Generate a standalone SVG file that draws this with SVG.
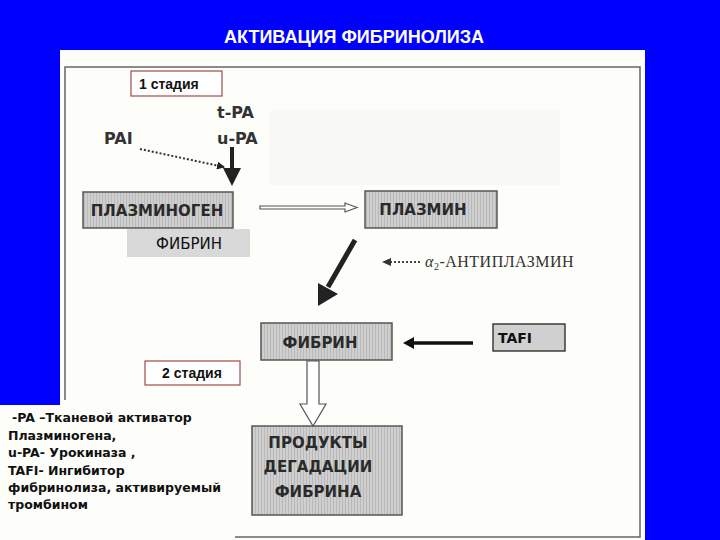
<svg xmlns="http://www.w3.org/2000/svg" width="720" height="540" viewBox="0 0 720 540">
<defs>
<pattern id="stripes" width="3" height="10" patternUnits="userSpaceOnUse">
<rect width="3" height="10" fill="#cfcfcf"/>
<rect width="1" height="10" fill="#b9b9b9"/>
</pattern>
<marker id="dotHead" markerWidth="8" markerHeight="8" refX="7" refY="4" orient="auto" markerUnits="userSpaceOnUse">
<path d="M0,0 L8,4 L0,8 Z" fill="#222"/>
</marker>
</defs>
<style>
.node { stroke: #555; stroke-width: 1.5; fill: url(#stripes); }
.nlabel { font-family: "DejaVu Sans", "Liberation Sans", sans-serif; font-weight: bold; font-size: 15px; fill: #2a2a2a; text-anchor: middle; }
.stage { fill: #fff; stroke: #a04a4a; stroke-width: 1.2; }
.stext { font-family: "Liberation Sans", Arial, sans-serif; font-weight: bold; font-size: 14px; fill: #111; }
.lbl { font-family: "DejaVu Sans", "Liberation Sans", sans-serif; font-weight: bold; font-size: 16px; fill: #333; }
.note { font-family: "DejaVu Sans", "Liberation Sans", sans-serif; font-weight: bold; font-size: 12.5px; fill: #111; }
</style>
<rect width="720" height="540" fill="#0000ff"/>
<text x="354" y="43" text-anchor="middle" font-family="Liberation Sans, Arial, sans-serif" font-weight="bold" font-size="18" fill="#fff">АКТИВАЦИЯ ФИБРИНОЛИЗА</text>
<rect x="60" y="50" width="585" height="490" fill="#fdfdfa"/>
<rect x="0" y="405" width="62" height="135" fill="#fdfdfa"/>
<rect x="270" y="110" width="290" height="75" fill="#f8f8f6"/>
<path d="M65,400 L65,67 L640,67 L640,537 L235,537" fill="none" stroke="#666" stroke-width="1.5"/>

<g id="stage1">
<rect class="stage" x="131" y="71" width="91" height="25"/>
<text class="stext" x="139" y="89">1 стадия</text>
</g>
<g id="tpa"><text class="lbl" x="217" y="118">t-PA</text></g>
<g id="upa"><text class="lbl" x="217" y="144">u-PA</text></g>
<g id="pai"><text class="lbl" x="104" y="144">PAI</text></g>

<g id="plasminogen">
<rect class="node" x="83" y="192" width="150" height="36"/>
<text class="nlabel" x="157" y="216">ПЛАЗМИНОГЕН</text>
</g>
<g id="fibrin1">
<rect x="127" y="229" width="123" height="28" fill="#d9d9d9"/>
<text x="189" y="249" text-anchor="middle" font-family="DejaVu Sans, Liberation Sans, sans-serif" font-size="15" fill="#111">ФИБРИН</text>
</g>
<g id="plasmin">
<rect class="node" x="365" y="191" width="132" height="37"/>
<text class="nlabel" x="423" y="215" font-size="16">ПЛАЗМИН</text>
</g>
<g id="antiplasmin">
<text x="425" y="267" font-family="Liberation Serif, Times New Roman, serif" font-size="16" letter-spacing="0.5" fill="#333"><tspan font-style="italic">α</tspan><tspan font-size="10" dy="3">2</tspan><tspan dy="-3">-АНТИПЛАЗМИН</tspan></text>
</g>
<g id="fibrin2">
<rect class="node" x="261" y="323" width="131" height="37"/>
<text class="nlabel" x="320" y="348" font-size="17">ФИБРИН</text>
</g>
<g id="tafi">
<rect x="493" y="324" width="72" height="27" fill="#d0d0d0" stroke="#222" stroke-width="1.3"/>
<text x="498" y="343" font-family="DejaVu Sans, Liberation Sans, sans-serif" font-weight="bold" font-size="14" fill="#111">TAFI</text>
</g>
<g id="stage2">
<rect class="stage" x="145" y="361" width="95" height="24"/>
<text class="stext" x="192" y="378" text-anchor="middle">2 стадия</text>
</g>
<g id="products">
<rect class="node" x="252" y="426" width="150" height="89"/>
<text class="nlabel" x="318" y="448">ПРОДУКТЫ</text>
<text class="nlabel" x="318" y="472">ДЕГАДАЦИИ</text>
<text class="nlabel" x="318" y="497">ФИБРИНА</text>
</g>
<g id="legend">
<text class="note" x="12" y="422"> -PA –Тканевой  активатор</text>
<text class="note" x="8" y="440">Плазминогена,</text>
<text class="note" x="8" y="457">u-PA- Урокиназа ,</text>
<text class="note" x="8" y="475">TAFI- Ингибитор</text>
<text class="note" x="8" y="492">фибринолиза, активируемый</text>
<text class="note" x="8" y="509">тромбином</text>
</g>

<g id="connectors">
<path d="M140,149 L224,167" fill="none" stroke="#333" stroke-width="2" stroke-dasharray="2,2" marker-end="url(#dotHead)"/>
<path d="M232,147 L232,170" stroke="#222" stroke-width="4"/>
<path d="M223,168 L241,168 L232,186 Z" fill="#222"/>
<path d="M260,206 L345,206 L345,203 L357,207.5 L345,212 L345,209 L260,209 Z" fill="#fff" stroke="#555" stroke-width="1.2"/>
<path d="M420,262 L390,262" fill="none" stroke="#444" stroke-width="2" stroke-dasharray="2,2"/>
<path d="M391,258 L382,262 L391,266 Z" fill="#333"/>
<path d="M355,240 L328,287" stroke="#222" stroke-width="5"/>
<path d="M318,306 L318,283 L338,294 Z" fill="#222"/>
<path d="M473,343 L412,343" stroke="#111" stroke-width="3.5"/>
<path d="M414,337 L403,343 L414,349 Z" fill="#111"/>
<path d="M307,361 L319,361 L319,404 L326,404 L313,426 L300,404 L307,404 Z" fill="#fff" stroke="#555" stroke-width="1.2"/>
</g>
</svg>
